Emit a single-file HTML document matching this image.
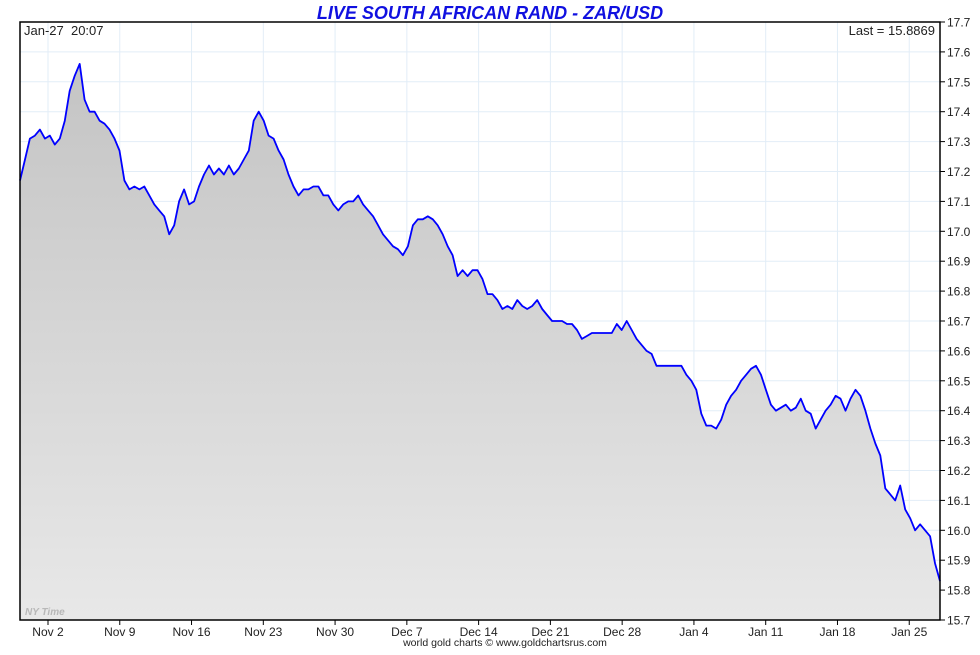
<!DOCTYPE html>
<html><head><meta charset="utf-8"><style>
body{margin:0;background:#fff;font-family:"Liberation Sans",sans-serif}
</style></head><body>
<svg id="chart" width="980" height="650" xmlns="http://www.w3.org/2000/svg" font-family="Liberation Sans, sans-serif">
<defs><linearGradient id="fillg" x1="0" y1="0" x2="0" y2="1"><stop offset="0" stop-color="#c4c4c4"/><stop offset="1" stop-color="#e8e8e8"/></linearGradient></defs>
<text x="490" y="19" text-anchor="middle" font-size="18" font-weight="bold" font-style="italic" fill="#1010e0">LIVE SOUTH AFRICAN RAND - ZAR/USD</text>
<g id="grid"></g><g id="plot"></g><g id="axes"></g>
<rect x="20" y="22" width="920" height="598" fill="none" stroke="#000" stroke-width="1.5"/>
<text x="24" y="35" font-size="13" fill="#222">Jan-27&#160;&#160;20:07</text>
<text x="935" y="35" text-anchor="end" font-size="13" fill="#222">Last = 15.8869</text>
<text x="25" y="615" font-size="10" font-style="italic" font-weight="bold" fill="#b8b8b8">NY Time</text>
<text x="505" y="646" text-anchor="middle" font-size="10.5" fill="#222">world gold charts © www.goldchartsrus.com</text>
</svg>
<script>
const yTicks=[17.7,17.6,17.5,17.4,17.3,17.2,17.1,17.0,16.9,16.8,16.7,16.6,16.5,16.4,16.3,16.2,16.1,16.0,15.9,15.8,15.7];
const xTickLabels=["Nov 2","Nov 9","Nov 16","Nov 23","Nov 30","Dec 7","Dec 14","Dec 21","Dec 28","Jan 4","Jan 11","Jan 18","Jan 25"];
const xTickDays=[0,7,14,21,28,35,42,49,56,63,70,77,84];
const startDay=-2.73, endDay=87.0;
const rates=[17.17,17.24,17.31,17.32,17.34,17.31,17.32,17.29,17.31,17.37,17.47,17.52,
17.56,17.44,17.40,17.40,
17.37,17.36,17.34,17.31,17.27,17.17,17.14,17.15,17.14,17.15,17.12,17.09,17.07,17.05,16.99,17.02,17.10,17.14,17.09,17.10,17.15,17.19,17.22,17.19,17.21,17.19,17.22,17.19,17.21,17.24,17.27,
17.37,17.40,17.37,
17.32,17.31,17.27,17.24,17.19,17.15,17.12,17.14,17.14,17.15,17.15,17.12,17.12,17.09,17.07,17.09,17.10,17.10,17.12,17.09,17.07,17.05,17.02,16.99,16.97,16.95,16.94,16.92,16.95,17.02,17.04,17.04,17.05,17.04,17.02,16.99,16.95,16.92,16.85,16.87,16.85,16.87,16.87,16.84,16.79,16.79,16.77,16.74,16.75,16.74,16.77,16.75,16.74,16.75,16.77,16.74,16.72,16.70,16.70,16.70,16.69,16.69,16.67,16.64,
16.65,16.66,16.66,16.66,16.66,16.66,16.69,16.67,16.70,16.67,16.64,16.62,16.60,16.59,16.55,16.55,16.55,16.55,16.55,16.55,
16.52,16.50,16.47,16.39,16.35,16.35,16.34,16.37,16.42,16.45,16.47,16.50,16.52,16.54,16.55,16.52,16.47,16.42,16.40,16.41,16.42,16.40,16.41,16.44,16.40,16.39,16.34,16.37,16.40,16.42,16.45,16.44,16.40,16.44,16.47,16.45,16.40,16.34,16.29,16.25,16.14,16.12,16.10,16.15,16.07,16.04,16.00,16.02,16.00,15.98,15.89,15.83];

const L=20,R=940,T=22,B=620,yMin=15.7,yMax=17.7;
const ys=v=>B-(v-yMin)/(yMax-yMin)*(B-T);
const xs=d=>L+(d-startDay)/(endDay-startDay)*(R-L);
const NS="http://www.w3.org/2000/svg";
function mk(tag,attrs,parent){const e=document.createElementNS(NS,tag);for(const k in attrs)e.setAttribute(k,attrs[k]);parent.appendChild(e);return e;}
const grid=document.getElementById('grid'),plot=document.getElementById('plot'),axes=document.getElementById('axes');
yTicks.forEach(v=>{
 const y=ys(v);
 const g=mk('line',{x1:L,x2:R,y1:y,y2:y,stroke:'#e2edf7','stroke-width':1},grid);
 
 
 const tk=mk('line',{x1:R,x2:R+5,y1:y,y2:y,stroke:'#000'},axes);
 
 
 const t=mk('text',{x:R+7,y:y+4.5,'font-size':12,fill:'#222'},axes);
 t.textContent=v.toFixed(1);
 
 
});
xTickDays.forEach((d,i)=>{
 const x=xs(d);
 const g=mk('line',{x1:x,x2:x,y1:T,y2:B,stroke:'#e2edf7','stroke-width':1},grid);
 
 
 const tk=mk('line',{x1:x,x2:x,y1:B,y2:B+5,stroke:'#000'},axes);
 
 
 const t=mk('text',{x:x,y:636,'text-anchor':'middle','font-size':12,fill:'#222'},axes);
 t.textContent=xTickLabels[i];
 
 
});
const n=rates.length;
const pts=rates.map((v,i)=>[xs(startDay+i*(endDay-startDay)/(n-1)),ys(v)]);
let line=pts.map((p,i)=>(i?'L':'M')+p[0].toFixed(1)+' '+p[1].toFixed(1)).join(' ');
const area=mk('path',{d:line+` L${R} ${B} L${L} ${B} Z`,fill:'url(#fillg)'},plot);


const ln=mk('path',{d:line,fill:'none',stroke:'#0000ff','stroke-width':1.8,'stroke-linejoin':'round'},plot);


</script>
</body></html>
